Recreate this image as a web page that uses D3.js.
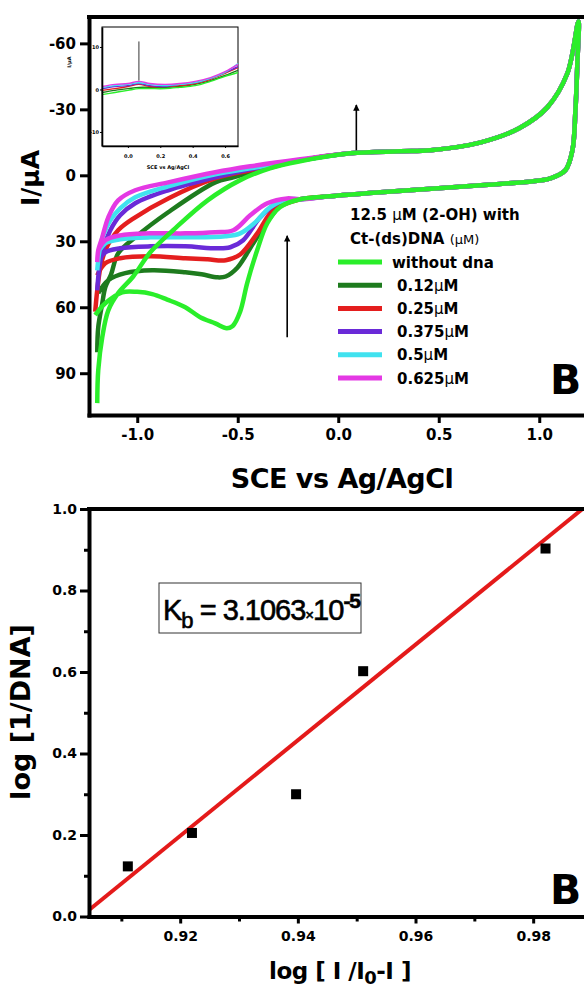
<!DOCTYPE html>
<html>
<head>
<meta charset="utf-8">
<script src="https://cdn.jsdelivr.net/npm/d3@7"></script>
<style>
  body { margin: 0; background: #fff; }
  svg { display: block; }
  text { font-family: "DejaVu Sans", sans-serif; fill: #000; }
</style>
</head>
<body>
<svg id="chart" width="584" height="990"></svg>
<script>
// ---------- data: cyclic voltammograms (E in V, I in uA) ----------
const cvLabels = ["without dna", "0.12μM", "0.25μM", "0.375μM", "0.5μM", "0.625μM"];
const cvXTicks = [-1.0, -0.5, 0.0, 0.5, 1.0];
const cvYTicks = [-60, -30, 0, 30, 60, 90];

// part of the loop all six scans share (forward to +1.2 V and back)
const sharedUpper = [[0.06, -10.0], [0.31, -10.9], [0.46, -11.4], [0.71, -15.0], [0.90, -21.4],
                     [1.04, -30.9], [1.14, -46.4], [1.195, -70.0]];
const sharedLower = [[1.19, -52.0], [1.18, -29.5], [1.165, -11.4], [1.13, -2.3], [1.055, 1.4],
                     [0.97, 2.7], [0.71, 4.5], [0.21, 7.7], [-0.04, 9.5], [-0.19, 10.9]];

const greenUp = [[-1.199, 103.6], [-1.194, 88.6], [-1.174, 73.6], [-1.144, 61.4], [-1.095, 53.6],
                 [-1.02, 46.0], [-0.935, 35.0], [-0.81, 24.0], [-0.65, 11.4], [-0.49, 2.3],
                 [-0.34, -3.2], [-0.19, -6.4]];
const greenDown = [[-0.29, 14.5], [-0.353, 21.8], [-0.403, 34.0], [-0.453, 49.0], [-0.488, 62.0],
                   [-0.525, 68.5], [-0.555, 69.5], [-0.612, 67.3], [-0.687, 64.5], [-0.761, 60.0],
                   [-0.851, 56.5], [-0.925, 54.0], [-1.0, 53.0], [-1.075, 53.2], [-1.159, 58.2],
                   [-1.209, 63.6]];

const dkGreenUp = [[-1.199, 80.5], [-1.194, 69.1], [-1.174, 58.2], [-1.159, 50.9], [-1.13, 45.0],
                   [-1.095, 35.5], [-1.01, 28.2], [-0.846, 16.8], [-0.612, 3.2], [-0.522, 0.9],
                   [-0.353, -3.2], [-0.189, -6.8]];
const dkGreenDown = [[-0.274, 12.7], [-0.338, 19.1], [-0.423, 30.9], [-0.502, 42.0], [-0.56, 46.0],
                     [-0.60, 46.4], [-0.68, 45.0], [-0.761, 44.1], [-0.925, 43.2], [-1.06, 44.5],
                     [-1.144, 47.7], [-1.194, 53.6]];

const redUp = [[-1.209, 62.0], [-1.199, 52.3], [-1.184, 42.3], [-1.159, 34.1], [-1.095, 25.0],
               [-1.01, 19.1], [-0.846, 10.5], [-0.612, 1.4], [-0.438, -2.3], [-0.189, -6.8]];
const redDown = [[-0.323, 15.9], [-0.403, 26.4], [-0.488, 36.0], [-0.56, 38.6], [-0.65, 38.2],
                 [-0.761, 37.7], [-0.935, 36.8], [-1.085, 37.7], [-1.159, 40.0], [-1.199, 45.5]];

const purpleUp = [[-1.199, 52.3], [-1.189, 42.3], [-1.169, 33.2], [-1.134, 25.0], [-1.085, 18.2],
                  [-1.01, 12.7], [-0.846, 6.8], [-0.612, 0.9], [-0.438, -2.7], [-0.189, -6.8]];
const purpleDown = [[-0.303, 12.7], [-0.388, 19.1], [-0.473, 29.5], [-0.537, 32.7], [-0.6, 33.2],
                    [-0.761, 32.3], [-0.935, 32.3], [-1.085, 33.2], [-1.159, 35.0], [-1.194, 39.5]];

const cyanUp = [[-1.199, 43.2], [-1.189, 35.0], [-1.169, 27.3], [-1.134, 20.5], [-1.085, 15.0],
                [-1.01, 10.0], [-0.846, 5.0], [-0.612, -0.5], [-0.438, -3.2], [-0.189, -6.8]];
const cyanDown = [[-0.254, 10.9], [-0.338, 14.5], [-0.413, 21.4], [-0.488, 26.4], [-0.562, 27.7],
                  [-0.761, 28.2], [-0.935, 28.2], [-1.085, 29.1], [-1.159, 30.9], [-1.194, 35.0]];

const magentaUp = [[-1.199, 39.5], [-1.194, 34.1], [-1.174, 28.2], [-1.144, 19.1], [-1.095, 11.4],
                   [-1.01, 6.8], [-0.846, 3.2], [-0.612, -1.4], [-0.438, -4.1], [-0.189, -7.3]];
const magentaDown = [[-0.254, 10.5], [-0.353, 12.7], [-0.438, 18.2], [-0.522, 25.0], [-0.612, 25.9],
                     [-0.761, 26.4], [-0.935, 26.4], [-1.085, 27.3], [-1.159, 29.5], [-1.194, 34.1]];

// inset (zoom of the anodic region)
const insetX = [-0.161, -0.08, 0, 0.068, 0.136, 0.23, 0.32, 0.415, 0.51, 0.6, 0.68];
const insetGreen = [-1.2, -0.7, -0.2, 0.2, 0.2, 0.2, 0.5, 0.9, 1.9, 3.1, 4.0];
const insetDkGreen = [-0.7, -0.2, 0.2, 0.5, 0.5, 0.5, 0.7, 1.2, 2.1, 3.3, 4.5];
const insetRed = [-0.2, 0.2, 0.7, 1.2, 0.7, 0.7, 0.9, 1.4, 2.4, 3.8, 5.2];
const insetPurple = [0.2, 0.7, 0.9, 1.4, 0.9, 0.7, 1.2, 1.6, 2.6, 4.0, 5.4];
const insetCyan = [0.5, 0.9, 1.2, 1.6, 1.2, 0.9, 1.2, 1.6, 2.6, 4.0, 6.1];
const insetMagenta = [0.7, 1.2, 1.4, 1.9, 1.4, 1.2, 1.4, 1.9, 2.8, 4.2, 5.9];
const insetXTicks = [0.0, 0.2, 0.4, 0.6];
const insetYTicks = [10, 0, -10];

// ---------- data: binding plot ----------
const bindX = [0.9111, 0.9220, 0.9397, 0.9511, 0.9821];
const bindY = [0.123, 0.205, 0.300, 0.602, 0.903];
const fitX = [0.9045, 0.9905];
const fitY = [0.016, 1.025];
const bindXTicks = [0.92, 0.94, 0.96, 0.98];
const bindXMinor = [0.91, 0.93, 0.95, 0.97, 0.99];
const bindYTicks = [0.0, 0.2, 0.4, 0.6, 0.8, 1.0];
const bindYMinor = [0.1, 0.3, 0.5, 0.7, 0.9];

// ---------- drawing ----------
const colors = ["#2aee2a", "#1e7b1e", "#e41e1e", "#6a2ad8", "#40e2ef", "#e439e4"];
const curves = [
  greenUp.concat(sharedUpper, sharedLower, greenDown),
  dkGreenUp.concat(sharedUpper, sharedLower, dkGreenDown),
  redUp.concat(sharedUpper, sharedLower, redDown),
  purpleUp.concat(sharedUpper, sharedLower, purpleDown),
  cyanUp.concat(sharedUpper, sharedLower, cyanDown),
  magentaUp.concat(sharedUpper, sharedLower, magentaDown)
];
const insetSeries = [insetGreen, insetDkGreen, insetRed, insetPurple, insetCyan, insetMagenta];

const svg = d3.select("#chart");
const defs = svg.append("defs");
defs.append("marker")
    .attr("id", "head")
    .attr("viewBox", "0 0 10 10")
    .attr("refX", 9).attr("refY", 5)
    .attr("markerWidth", 4).attr("markerHeight", 6)
    .attr("markerUnits", "strokeWidth")
    .attr("orient", "auto")
  .append("path").attr("d", "M0,0 L10,5 L0,10 z").attr("fill", "#000");

function styleAxis(g, size) {
  g.select(".domain").attr("stroke-width", 4).attr("stroke-linecap", "square");
  g.selectAll(".tick line").attr("stroke-width", 3);
  g.selectAll(".tick text")
    .style("font-family", "DejaVu Sans")
    .style("font-weight", "bold")
    .style("font-size", size + "px");
}

// ===== top panel: CV =====
const cvBox = {left: 89, top: 17, bottom: 415, right: 589.5};
const x = d3.scaleLinear().domain([-1.24, 1.25]).range([cvBox.left, cvBox.right]);
const y = d3.scaleLinear().domain([-72, 109]).range([cvBox.top, cvBox.bottom]);

defs.append("clipPath").attr("id", "clipTop")
  .append("rect").attr("x", cvBox.left).attr("y", cvBox.top)
  .attr("width", cvBox.right - cvBox.left).attr("height", cvBox.bottom - cvBox.top);

const line = d3.line()
    .x(d => x(d[0])).y(d => y(d[1]))
    .curve(d3.curveCatmullRom.alpha(0.5));

// draw green last so it sits on top like in the figure
const order = [1, 2, 3, 4, 5, 0];
svg.append("g").attr("clip-path", "url(#clipTop)")
  .selectAll("path")
  .data(order)
  .join("path")
    .attr("d", i => line(curves[i]))
    .attr("fill", "none")
    .attr("stroke", i => colors[i])
    .attr("stroke-width", 4.5)
    .attr("stroke-linejoin", "round");

// arrows
const cvArrows = [[0.09, -11.4, -32.0], [-0.254, 73.6, 27.5]];
svg.selectAll(".cvArrow")
  .data(cvArrows)
  .join("line")
    .attr("class", "cvArrow")
    .attr("x1", d => x(d[0])).attr("x2", d => x(d[0]))
    .attr("y1", d => y(d[1])).attr("y2", d => y(d[2]))
    .attr("stroke", "#000").attr("stroke-width", 1.6)
    .attr("marker-end", "url(#head)");

// axes
const gxTop = svg.append("g")
    .attr("transform", `translate(0,${cvBox.bottom})`)
    .call(d3.axisBottom(x).tickValues(cvXTicks).tickFormat(d => d.toFixed(1))
      .tickSize(8).tickSizeOuter(0).tickPadding(6));
styleAxis(gxTop, 15);

const gyTop = svg.append("g")
    .attr("transform", `translate(${cvBox.left},0)`)
    .call(d3.axisLeft(y).tickValues(cvYTicks).tickFormat(d => String(d))
      .tickSize(9).tickSizeOuter(0).tickPadding(4));
styleAxis(gyTop, 15);

svg.append("line")
  .attr("x1", cvBox.left).attr("x2", cvBox.right)
  .attr("y1", cvBox.top).attr("y2", cvBox.top)
  .attr("stroke", "#000").attr("stroke-width", 4).attr("stroke-linecap", "square");
svg.append("line")
  .attr("x1", cvBox.right).attr("x2", cvBox.right)
  .attr("y1", cvBox.top).attr("y2", cvBox.bottom)
  .attr("stroke", "#000").attr("stroke-width", 4);

svg.append("text")
  .attr("transform", "translate(39,178) rotate(-90)")
  .attr("text-anchor", "middle")
  .style("font-size", "25px").style("font-weight", "bold")
  .text("I/μA");

svg.append("text")
  .attr("x", 342).attr("y", 488)
  .attr("text-anchor", "middle")
  .style("font-size", "27px").style("font-weight", "bold").style("letter-spacing", "-0.5px")
  .text("SCE vs Ag/AgCl");

// legend
const legend = svg.append("g").style("font-weight", "bold").style("font-size", "15px");
const t1 = legend.append("text").attr("x", 350).attr("y", 219.5);
t1.append("tspan").text("12.5 ");
t1.append("tspan").style("font-weight", "normal").text("μ");
t1.append("tspan").text("M (2-OH) with");
const t2 = legend.append("text").attr("x", 350).attr("y", 244);
t2.append("tspan").text("Ct-(ds)DNA ");
t2.append("tspan").style("font-weight", "normal").style("font-size", "13px").text("(μM)");

const legY = d3.scaleLinear().domain([0, 5]).range([262, 378]);
legend.selectAll(".legLine")
  .data(cvLabels)
  .join("line")
    .attr("x1", 338).attr("x2", 382)
    .attr("y1", (d, i) => legY(i)).attr("y2", (d, i) => legY(i))
    .attr("stroke", (d, i) => colors[i]).attr("stroke-width", 5);
legend.selectAll(".legText")
  .data(cvLabels)
  .join("text")
    .attr("x", (d, i) => i === 0 ? 392 : 397)
    .attr("y", (d, i) => legY(i) + 5.5)
    .each(function(d) {
      const parts = d.split("μ");
      const t = d3.select(this);
      t.append("tspan").text(parts[0]);
      if (parts.length > 1) {
        t.append("tspan").style("font-weight", "normal").text("μ");
        t.append("tspan").text(parts[1]);
      }
    });

svg.append("text").attr("x", 550).attr("y", 394)
  .style("font-size", "41px").style("font-weight", "bold").text("B");

// inset
const inset = {left: 102, top: 27, right: 238, bottom: 146};
const ix = d3.scaleLinear().domain([-0.16, 0.68]).range([inset.left, inset.right]);
const iy = d3.scaleLinear().domain([-13.3, 14.7]).range([inset.bottom, inset.top]);
svg.append("rect")
  .attr("x", inset.left).attr("y", inset.top)
  .attr("width", inset.right - inset.left).attr("height", inset.bottom - inset.top)
  .attr("fill", "#fff").attr("stroke", "#000").attr("stroke-width", 1);
const iline = d3.line()
    .x((d, i) => ix(insetX[i])).y(d => iy(d))
    .curve(d3.curveCatmullRom.alpha(0.5));
svg.append("g").selectAll("path")
  .data(order)
  .join("path")
    .attr("d", i => iline(insetSeries[i]))
    .attr("fill", "none")
    .attr("stroke", i => colors[i])
    .attr("stroke-width", 1.4);
const insetArrow = [0.068, 2.1, 11.3];
svg.append("line")
  .attr("x1", ix(insetArrow[0])).attr("x2", ix(insetArrow[0]))
  .attr("y1", iy(insetArrow[1])).attr("y2", iy(insetArrow[2]))
  .attr("stroke", "#000").attr("stroke-width", 0.8);

const gix = svg.append("g")
    .attr("transform", `translate(0,${inset.bottom})`)
    .call(d3.axisBottom(ix).tickValues(insetXTicks).tickFormat(d => d.toFixed(1))
      .tickSize(2).tickSizeOuter(0).tickPadding(6));
const giy = svg.append("g")
    .attr("transform", `translate(${inset.left},0)`)
    .call(d3.axisLeft(iy).tickValues(insetYTicks).tickFormat(d => String(d))
      .tickSize(2).tickSizeOuter(0).tickPadding(1));
[gix, giy].forEach(g => {
  g.select(".domain").attr("stroke-width", 1.6);
  g.selectAll(".tick line").attr("stroke-width", 1);
  g.selectAll(".tick text").style("font-family", "DejaVu Sans")
    .style("font-weight", "bold").style("font-size", "5px");
});
svg.append("text").attr("x", 168).attr("y", 169).attr("text-anchor", "middle")
  .style("font-size", "5px").style("font-weight", "bold").text("SCE vs Ag/AgCl");
svg.append("text").attr("transform", "translate(71,62) rotate(-90)").attr("text-anchor", "middle")
  .style("font-size", "5px").style("font-weight", "bold").text("I/μA");

// ===== bottom panel: binding =====
const botBox = {left: 89, top: 509, bottom: 916.5, right: 592};
const bx = d3.scaleLinear().domain([0.9045, 0.99]).range([botBox.left, botBox.right]);
const by = d3.scaleLinear().domain([0, 1]).range([botBox.bottom, botBox.top]);

defs.append("clipPath").attr("id", "clipBot")
  .append("rect").attr("x", botBox.left).attr("y", botBox.top)
  .attr("width", botBox.right - botBox.left).attr("height", botBox.bottom - botBox.top);

svg.append("line")
  .attr("clip-path", "url(#clipBot)")
  .attr("x1", bx(fitX[0])).attr("y1", by(fitY[0]))
  .attr("x2", bx(fitX[1])).attr("y2", by(fitY[1]))
  .attr("stroke", "#e41a1a").attr("stroke-width", 4);

svg.selectAll(".pt")
  .data(bindX)
  .join("rect")
    .attr("class", "pt")
    .attr("x", d => bx(d) - 5)
    .attr("y", (d, i) => by(bindY[i]) - 5)
    .attr("width", 10).attr("height", 10)
    .attr("fill", "#000");

const gxB = svg.append("g")
    .attr("transform", `translate(0,${botBox.bottom})`)
    .call(d3.axisBottom(bx).tickValues(bindXTicks).tickFormat(d => d.toFixed(2))
      .tickSize(7).tickSizeOuter(0).tickPadding(8));
styleAxis(gxB, 14);
svg.append("g")
    .attr("transform", `translate(0,${botBox.bottom})`)
    .call(d3.axisBottom(bx).tickValues(bindXMinor).tickFormat("").tickSize(5).tickSizeOuter(0))
    .call(g => g.select(".domain").remove())
    .selectAll(".tick line").attr("stroke-width", 3);

const gyB = svg.append("g")
    .attr("transform", `translate(${botBox.left},0)`)
    .call(d3.axisLeft(by).tickValues(bindYTicks).tickFormat(d => d.toFixed(1))
      .tickSize(9).tickSizeOuter(0).tickPadding(3));
styleAxis(gyB, 14);
svg.append("g")
    .attr("transform", `translate(${botBox.left},0)`)
    .call(d3.axisLeft(by).tickValues(bindYMinor).tickFormat("").tickSize(5).tickSizeOuter(0))
    .call(g => g.select(".domain").remove())
    .selectAll(".tick line").attr("stroke-width", 3);

svg.append("line")
  .attr("x1", botBox.left).attr("x2", botBox.right)
  .attr("y1", botBox.top).attr("y2", botBox.top)
  .attr("stroke", "#000").attr("stroke-width", 4).attr("stroke-linecap", "square");

// Kb box
svg.append("rect").attr("x", 159).attr("y", 583).attr("width", 202).attr("height", 50)
  .attr("fill", "#fff").attr("stroke", "#333").attr("stroke-width", 1);
const kb = svg.append("text").attr("x", 163).attr("y", 620)
  .attr("stroke", "#000").attr("stroke-width", 0.6)
  .style("font-family", "Liberation Sans").style("font-size", "29px").style("letter-spacing", "-1px");
kb.append("tspan").text("K");
kb.append("tspan").attr("dy", 8).style("font-size", "22px").text("b");
kb.append("tspan").attr("dy", -8).text(" = 3.1063");
kb.append("tspan").style("font-size", "15px").text("×");
kb.append("tspan").text("10");
kb.append("tspan").attr("dy", -12).style("font-size", "21px").style("font-weight", "bold").text("-5");

svg.append("text").attr("x", 550).attr("y", 904)
  .style("font-size", "41px").style("font-weight", "bold").text("B");

svg.append("text")
  .attr("transform", "translate(30,712) rotate(-90)")
  .attr("text-anchor", "middle")
  .style("font-size", "27px").style("font-weight", "bold")
  .text("log [1/DNA]");

const xl = svg.append("text").attr("x", 340).attr("y", 979).attr("text-anchor", "middle")
  .style("font-size", "23px").style("font-weight", "bold").style("letter-spacing", "-0.5px");
xl.append("tspan").text("log [ I /I");
xl.append("tspan").attr("dy", 5).style("font-size", "18px").text("0");
xl.append("tspan").attr("dy", -5).text("-I ]");
</script>
</body>
</html>
